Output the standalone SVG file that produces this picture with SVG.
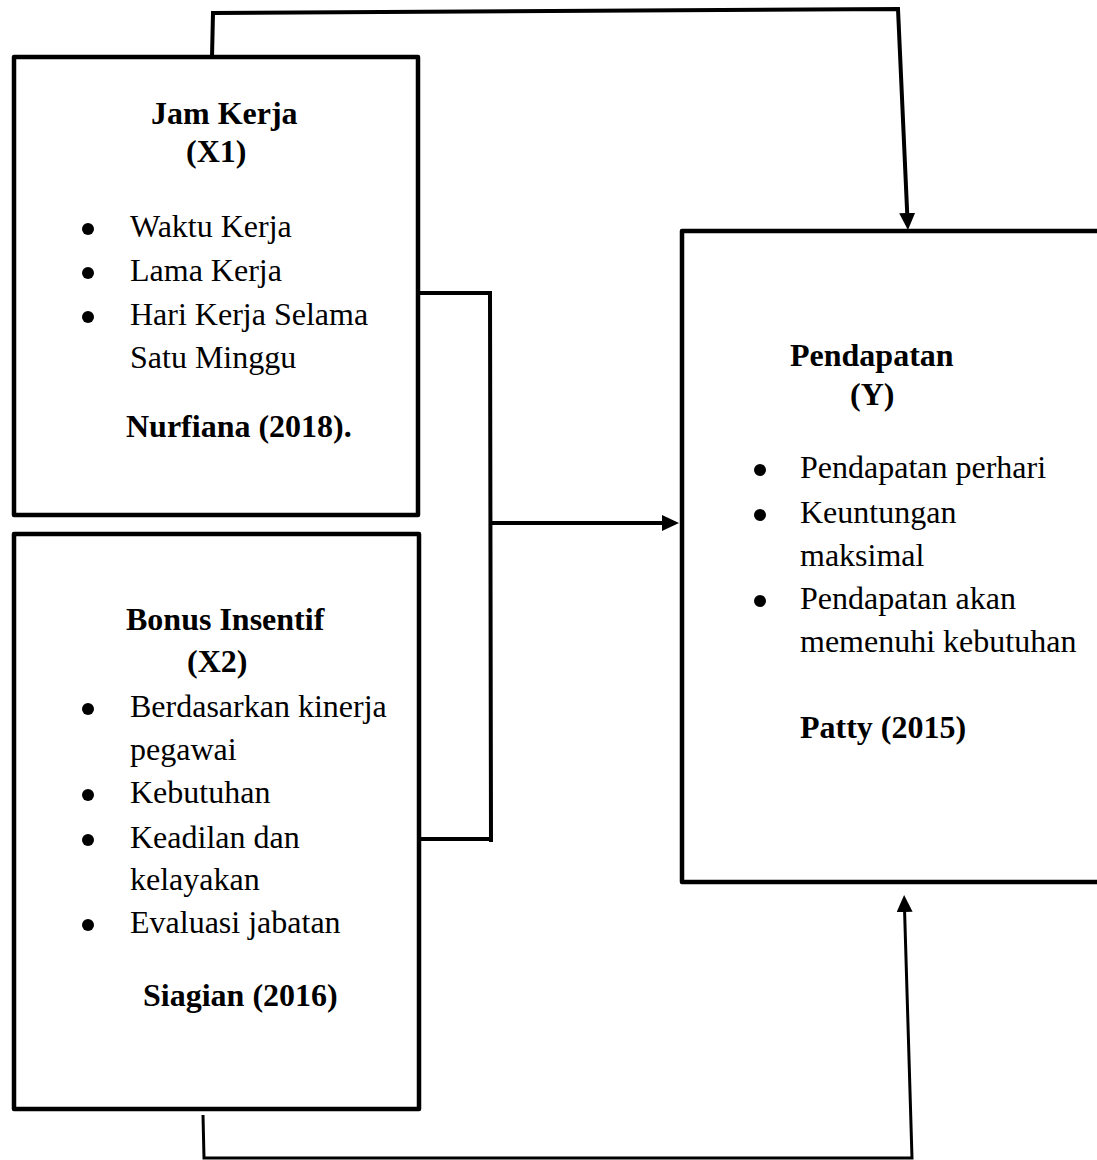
<svg xmlns="http://www.w3.org/2000/svg" width="1097" height="1160" viewBox="0 0 1097 1160">
<style>
.box{fill:#fff;stroke:#000;stroke-width:4.5;stroke-linejoin:round}
.con{fill:none;stroke:#000;stroke-width:4;stroke-linejoin:miter}
.thin{stroke-width:3}
text{font-family:"Liberation Serif","Times New Roman",serif;font-size:32px;fill:#000}
.b{font-weight:bold}
.dot{fill:#000}
</style>
<defs>
<marker id="ah" markerUnits="userSpaceOnUse" markerWidth="18" markerHeight="16" refX="7" refY="8" orient="auto">
<path d="M0,0 L17,8 L0,16 Z" fill="#000"/>
</marker>
</defs>
<rect width="1097" height="1160" fill="#fff"/>
<g id="connectors">
<path class="con" d="M212,57 L213,13 L898,9 L907.5,220" marker-end="url(#ah)"/>
<path class="con" d="M418,293 L490,293 L491,842"/>
<path class="con" d="M420,839 L491,839"/>
<path class="con" d="M491,523 L669,523" marker-end="url(#ah)"/>
<path class="con thin" d="M203,1115 L204,1158 L912,1158 L904.4,905" marker-end="url(#ah)"/>
</g>
<g id="x1">
<rect class="box" x="14" y="57" width="404" height="458"/>
<text class="b" x="151" y="124">Jam Kerja</text>
<text class="b" x="186" y="162">(X1)</text>
<circle class="dot" cx="88" cy="229" r="6"/>
<text x="130" y="237">Waktu Kerja</text>
<circle class="dot" cx="88" cy="273" r="6"/>
<text x="130" y="281">Lama Kerja</text>
<circle class="dot" cx="88" cy="317" r="6"/>
<text x="130" y="325">Hari Kerja Selama</text>
<text x="130" y="368">Satu Minggu</text>
<text class="b" x="126" y="437">Nurfiana (2018).</text>
</g>
<g id="x2">
<rect class="box" x="14" y="534" width="405" height="575"/>
<text class="b" x="126" y="630">Bonus Insentif</text>
<text class="b" x="187" y="672">(X2)</text>
<circle class="dot" cx="88" cy="709" r="6"/>
<text x="130" y="717">Berdasarkan kinerja</text>
<text x="130" y="760">pegawai</text>
<circle class="dot" cx="88" cy="795" r="6"/>
<text x="130" y="803">Kebutuhan</text>
<circle class="dot" cx="88" cy="840" r="6"/>
<text x="130" y="848">Keadilan dan</text>
<text x="130" y="890">kelayakan</text>
<circle class="dot" cx="88" cy="925" r="6"/>
<text x="130" y="933">Evaluasi jabatan</text>
<text class="b" x="143" y="1006">Siagian (2016)</text>
</g>
<g id="y">
<rect class="box" x="682" y="231" width="440" height="651"/>
<text class="b" x="790" y="366">Pendapatan</text>
<text class="b" x="850" y="405">(Y)</text>
<circle class="dot" cx="760" cy="470" r="6"/>
<text x="800" y="478">Pendapatan perhari</text>
<circle class="dot" cx="760" cy="515" r="6"/>
<text x="800" y="523">Keuntungan</text>
<text x="800" y="566">maksimal</text>
<circle class="dot" cx="760" cy="601" r="6"/>
<text x="800" y="609">Pendapatan akan</text>
<text x="800" y="652">memenuhi kebutuhan</text>
<text class="b" x="800" y="738">Patty (2015)</text>
</g>
</svg>
